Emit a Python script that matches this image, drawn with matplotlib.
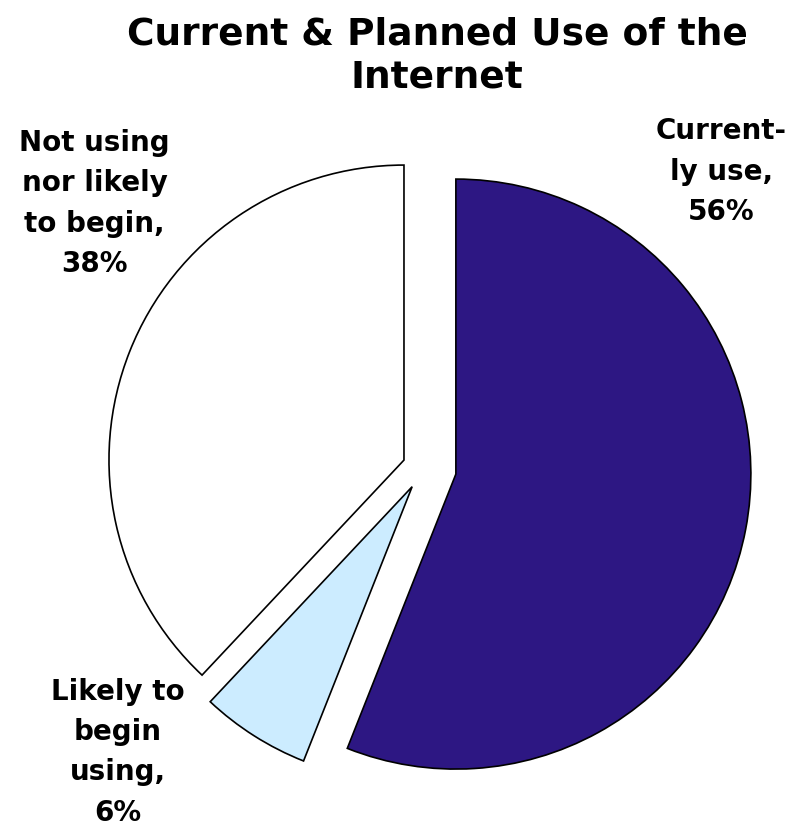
import matplotlib.pyplot as plt

# survey shares, clockwise from 12 o'clock
labels = ["Current-\nly use", "Likely to\nbegin\nusing", "Not using\nnor likely\nto begin"]
shares = [56, 6, 38]
colors = ["#2D1783", "#CCECFF", "#FFFFFF"]
explode = [0.11, 0.075, 0.073]

# baseline of the last line of each label (data units, pie radius = 1)
label_pos = [(1.007, 0.841), (-1.037, -1.195), (-1.117, 0.664)]

fig = plt.figure(figsize=(7.97, 8.27), dpi=100)
ax = fig.add_axes([0, 0, 1, 1])

ax.pie(shares, colors=colors, explode=explode, startangle=90, counterclock=False,
       radius=1.0, wedgeprops=dict(edgecolor="black", linewidth=1.2))

for name, val, (x, y) in zip(labels, shares, label_pos):
    ax.text(x, y, f"{name},\n{val}%", ha="center", va="baseline", fontsize=20,
            fontweight="bold", linespacing=1.56, family="DejaVu Sans")

ax.text(0.044, 1.29, "Current & Planned Use of the\nInternet", ha="center", va="baseline",
        fontsize=27, fontweight="bold", linespacing=1.25, family="DejaVu Sans")

ax.set_xlim(-424 / 295, (797 - 424) / 295)
ax.set_ylim((468 - 827) / 295, 468 / 295)
ax.set_aspect("auto")
ax.axis("off")

fig.savefig("out.png", dpi=100)
